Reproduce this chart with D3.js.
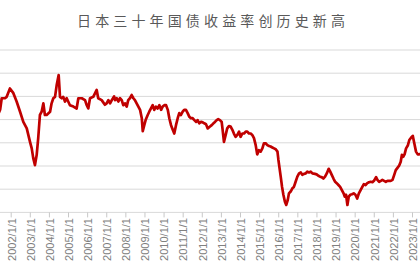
<!DOCTYPE html>
<html><head><meta charset="utf-8">
<script src="https://cdn.jsdelivr.net/npm/d3@7"></script>
<style>html,body{margin:0;padding:0;background:#fff;}svg{display:block;}</style>
</head><body><svg id="c" width="420" height="280"></svg>
<script>
const title = "日本三十年国债收益率创历史新高";
const tickYears = [2002,2003,2004,2005,2006,2007,2008,2009,2010,2011,2012,2013,2014,2015,2016,2017,2018,2019,2020,2021,2022,2023];
const tickLabels = ["2002/1/1","2003/1/1","2004/1/1","2005/1/1","2006/1/1","2007/1/1","2008/1/1","2009/1/1","2010/1/1","2011/1/1","2012/1/1","2013/1/1","2014/1/1","2015/1/1","2016/1/1","2017/1/1","2018/1/1","2019/1/1","2020/1/1","2021/1/1","2022/1/1","2023/1/1"];
const gridValues = [0.5,1,1.5,2,2.5,3,3.5];
// decimal year of each observation
const years = [
2001.38,2001.45,2001.53,2001.70,2001.79,2001.96,2002.14,2002.31,2002.49,2002.66,2002.84,
2003.01,2003.10,2003.18,2003.27,2003.36,2003.44,2003.53,2003.62,2003.71,2003.79,2003.88,
2004.06,2004.14,2004.23,2004.32,2004.41,2004.51,2004.58,2004.67,2004.75,2004.84,2004.93,
2005.10,2005.28,2005.45,2005.54,2005.72,2005.89,2005.98,
2006.06,2006.15,2006.32,2006.50,2006.58,2006.76,2006.93,
2007.02,2007.11,2007.20,2007.29,2007.41,2007.46,2007.55,2007.63,2007.72,2007.81,2007.89,2007.98,
2008.07,2008.15,2008.24,2008.33,2008.42,2008.50,2008.59,2008.68,2008.77,2008.86,2008.91,2008.99,
2009.06,2009.17,2009.25,2009.34,2009.43,2009.51,2009.60,2009.69,2009.78,2009.87,2009.95,
2010.04,2010.13,2010.22,2010.30,2010.39,2010.48,2010.56,2010.65,2010.74,2010.82,2010.91,
2011.00,2011.08,2011.17,2011.26,2011.35,2011.43,2011.52,2011.61,2011.70,2011.78,2011.87,2011.96,
2012.05,2012.13,2012.22,2012.31,2012.43,2012.52,2012.61,2012.69,2012.78,2012.86,2012.95,
2013.04,2013.09,2013.16,2013.25,2013.33,2013.42,2013.51,2013.60,2013.68,2013.77,2013.86,2013.95,
2014.03,2014.12,2014.21,2014.30,2014.38,2014.47,2014.56,2014.64,2014.73,2014.82,2014.90,2014.99,
2015.08,2015.17,2015.25,2015.34,2015.43,2015.52,2015.60,2015.69,2015.78,2015.87,2015.96,
2016.01,2016.07,2016.13,2016.20,2016.27,2016.35,2016.42,2016.50,2016.56,2016.65,2016.74,2016.82,2016.91,
2017.00,2017.09,2017.18,2017.26,2017.35,2017.44,2017.52,2017.61,2017.70,2017.79,2017.92,
2018.01,2018.10,2018.19,2018.27,2018.36,2018.45,2018.54,2018.64,2018.71,2018.80,2018.89,2018.98,
2019.06,2019.15,2019.24,2019.33,2019.42,2019.48,2019.55,2019.62,2019.69,2019.77,2019.86,2019.95,
2020.04,2020.13,2020.22,2020.31,2020.40,2020.48,2020.57,2020.66,2020.75,2020.84,2020.93,
2021.01,2021.12,2021.19,2021.28,2021.37,2021.45,2021.54,2021.63,2021.72,2021.80,2021.89,2021.98,
2022.07,2022.15,2022.24,2022.33,2022.41,2022.47,2022.54,2022.61,2022.69,2022.78,2022.86,2022.95,
2023.04,2023.12,2023.21,2023.30,2023.38,2023.47
];
// 30-year JGB yield, %
const yields = [
2.15,2.22,2.46,2.46,2.49,2.67,2.57,2.39,2.17,1.95,1.81,
1.52,1.38,1.17,1.02,1.24,1.60,2.10,2.17,2.35,2.10,2.10,
2.17,2.35,2.46,2.49,2.75,2.96,2.49,2.46,2.49,2.39,2.46,
2.31,2.28,2.24,2.46,2.46,2.42,2.31,
2.24,2.46,2.49,2.64,2.46,2.42,2.32,
2.35,2.42,2.35,2.42,2.50,2.42,2.46,2.39,2.46,2.42,2.31,2.35,
2.28,2.42,2.46,2.53,2.46,2.42,2.35,2.28,2.21,2.03,1.75,1.88,
1.99,2.10,2.17,2.24,2.31,2.21,2.28,2.24,2.31,2.21,2.28,
2.31,2.31,2.21,2.03,1.88,1.78,1.70,1.88,2.03,2.14,2.10,
2.17,2.21,2.21,2.14,2.06,2.03,2.03,1.99,1.95,1.99,1.92,1.95,
1.94,1.92,1.90,1.81,1.85,1.88,1.92,1.95,1.99,2.01,1.99,
1.95,1.78,1.52,1.67,1.81,1.86,1.85,1.78,1.70,1.63,1.67,1.74,
1.63,1.70,1.70,1.74,1.74,1.70,1.70,1.67,1.60,1.45,1.25,1.34,
1.31,1.38,1.49,1.49,1.45,1.43,1.42,1.40,1.38,1.36,1.31,
1.13,0.95,0.77,0.55,0.38,0.23,0.16,0.27,0.41,0.45,0.52,0.55,0.66,
0.77,0.84,0.86,0.81,0.83,0.84,0.88,0.86,0.88,0.84,0.83,
0.82,0.79,0.77,0.76,0.73,0.77,0.84,0.94,0.89,0.81,0.73,0.66,
0.63,0.59,0.55,0.48,0.41,0.34,0.38,0.16,0.34,0.38,0.39,0.41,
0.38,0.30,0.41,0.48,0.55,0.61,0.59,0.63,0.65,0.66,0.65,
0.68,0.76,0.70,0.66,0.68,0.70,0.68,0.66,0.68,0.68,0.68,0.70,
0.81,0.91,0.96,1.01,1.09,1.24,1.20,1.25,1.38,1.44,1.56,1.61,
1.65,1.49,1.31,1.25,1.25,1.27
];

const svg = d3.select("#c");
const W = 420;
const x = d3.scaleLinear().domain([2002, 2023]).range([10.7, 412]);
const y = d3.scaleLinear().domain([0, 3.5]).range([212.4, 50]);

// title
svg.append("text")
  .attr("x", 77).attr("y", 26.3)
  .attr("textLength", 268).attr("lengthAdjust", "spacing")
  .style("font-family", "'Noto Sans CJK SC'")
  .style("font-size", "14px")
  .style("font-weight", 400)
  .style("fill", "#595959")
  .text(title);

// gridlines
svg.append("g").selectAll("line").data(gridValues).join("line")
  .attr("x1", 0).attr("x2", W)
  .attr("y1", d => y(d)).attr("y2", d => y(d))
  .attr("stroke", "#d9d9d9").attr("stroke-width", 1);

// x axis
const axisG = svg.append("g").attr("transform", `translate(0,${y(0)})`);
axisG.append("line").attr("x1", 0).attr("x2", W).attr("y1", 0).attr("y2", 0)
  .attr("stroke", "#d9d9d9").attr("stroke-width", 1);
const xAxis = d3.axisBottom(x).tickValues(tickYears).tickSize(5)
  .tickFormat((d, i) => tickLabels[i]);
axisG.call(xAxis);
axisG.select(".domain").remove();
axisG.selectAll(".tick line").attr("stroke", "#c8c8c8");
axisG.selectAll(".tick text")
  .attr("transform", "rotate(-90)")
  .attr("text-anchor", "end")
  .attr("x", -5.6).attr("y", 4.3).attr("dy", 0)
  .attr("textLength", 43).attr("lengthAdjust", "spacingAndGlyphs")
  .style("font-family", "'Liberation Sans', Arial, sans-serif")
  .style("font-size", "10.5px")
  .style("fill", "#808080");

// line
const data = years.map((yr, i) => [yr, yields[i]]);
svg.append("path").datum(data)
  .attr("fill", "none")
  .attr("stroke", "#c00000")
  .attr("stroke-width", 2.7)
  .attr("stroke-linejoin", "round")
  .attr("stroke-linecap", "round")
  .attr("d", d3.line().x(d => x(d[0])).y(d => y(d[1])));
</script></body></html>
